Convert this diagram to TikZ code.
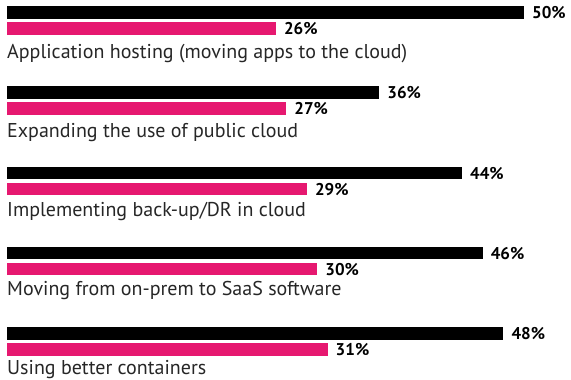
\documentclass[tikz,border=0pt]{standalone}
\usepackage{fontspec}
\setmainfont{PT Sans}
\definecolor{BarPink}{RGB}{230,24,112}
\usetikzlibrary{positioning}

\tikzset{
  blackbar/.style={fill=black},
  pinkbar/.style={fill=BarPink},
  pct/.style={anchor=west, inner sep=0pt, font=\fontsize{17}{19}\selectfont\bfseries},
  cat/.style={anchor=base west, inner sep=0pt, font=\fontsize{20}{22}\selectfont, text=black!85}
}

\begin{document}
\begin{tikzpicture}[x=1pt,y=-1pt]
  \useasboundingbox (0,0) rectangle (571,380);
  % one group per category: black bar, pink bar, label
  \foreach \i/\lbl/\a/\b in {0/{Application hosting (moving apps to the cloud)}/50/26,
                             1/{Expanding the use of public cloud}/36/27,
                             2/{Implementing back-up/DR in cloud}/44/29,
                             3/{Moving from on-prem to SaaS software}/46/30,
                             4/{Using better containers}/48/31}{
    \pgfmathsetmacro{\top}{6+80.3*\i}
    \pgfmathsetmacro{\base}{58+79.2*\i}
    \pgfmathsetmacro{\xa}{7+10.34*\a}
    \pgfmathsetmacro{\xb}{7+10.34*\b}
    \fill[blackbar] (7,\top) rectangle (\xa,\top+12.5);
    \fill[pinkbar] (7,\top+16) rectangle (\xb,\top+28.5);
    \node[pct] (a\i) at (\xa+8,\top+6.5) {\a\%};
    \node[pct] (b\i) at (\xb+8,\top+22.5) {\b\%};
    \node[cat] (l\i) at (7,\base) {\lbl};
  }
\end{tikzpicture}
\end{document}
